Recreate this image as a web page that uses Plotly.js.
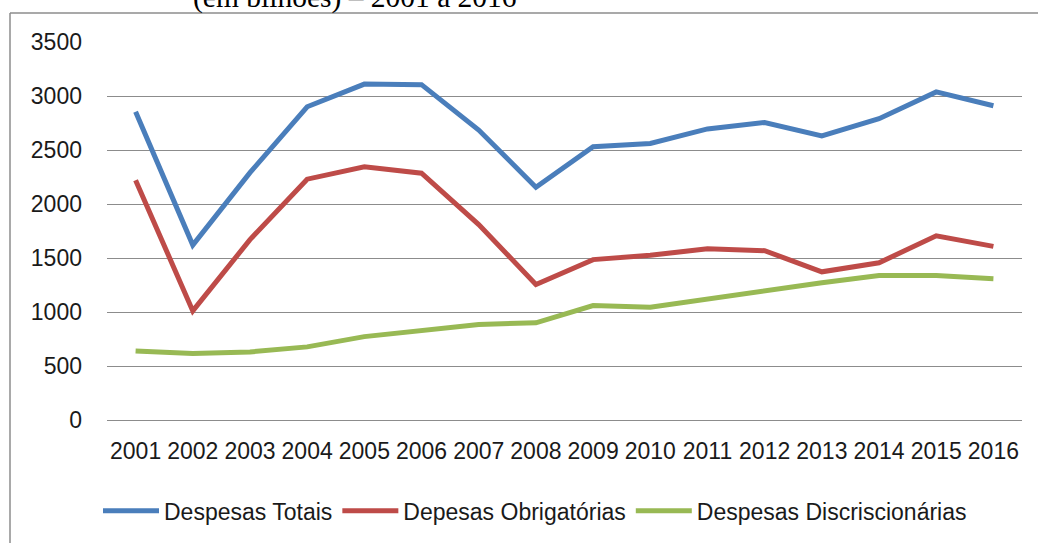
<!DOCTYPE html>
<html>
<head>
<meta charset="utf-8">
<script src="https://cdn.plot.ly/plotly-3.0.1.min.js"></script>
<style>
  html, body { margin: 0; padding: 0; background: #ffffff; }
  #chart { width: 1038px; height: 543px; }
</style>
</head>
<body>
<div id="chart"></div>
<script>
const years = ["2001","2002","2003","2004","2005","2006","2007","2008","2009","2010","2011","2012","2013","2014","2015","2016"];
const despesasTotais = [2855, 1620, 2290, 2900, 3110, 3105, 2685, 2155, 2530, 2560, 2695, 2755, 2630, 2790, 3038, 2910];
const despesasObrigatorias = [2220, 1010, 1670, 2230, 2345, 2285, 1810, 1255, 1485, 1525, 1585, 1568, 1372, 1456, 1705, 1608];
const despesasDiscricionarias = [640, 615, 630, 677, 772, 830, 885, 900, 1060, 1045, 1120, 1200, 1270, 1337, 1337, 1308];
const seriesNames = ["Despesas Totais", "Depesas Obrigatórias", "Despesas Discriscionárias"];
const titleText = "(em bilhões) – 2001 a 2016";

const colors = ["#4a7ebb", "#be4b48", "#98b954"];
const font = "'Liberation Sans', Arial, sans-serif";
const fs = 23;

const traces = [despesasTotais, despesasObrigatorias, despesasDiscricionarias].map((vals, i) => ({
  type: "scatter",
  mode: "lines",
  name: seriesNames[i],
  x: years,
  y: vals,
  line: { color: colors[i], width: 5 },
  hoverinfo: "x+y+name"
}));

const layout = {
  width: 1038,
  height: 543,
  paper_bgcolor: "#ffffff",
  plot_bgcolor: "#ffffff",
  margin: { l: 107, r: 16, t: 42, b: 122 },
  showlegend: true,
  font: { family: font, size: fs, color: "#1a1a1a" },
  xaxis: {
    type: "category",
    range: [-0.5, 15.5],
    showgrid: false,
    zeroline: false,
    showline: false,
    ticks: "",
    ticklabelstandoff: 15,
    tickfont: { family: font, size: fs, color: "#1a1a1a" },
    fixedrange: true
  },
  yaxis: {
    range: [0, 3500],
    dtick: 500,
    tick0: 0,
    showgrid: true,
    gridcolor: "#8c8c8c",
    gridwidth: 1.4,
    zeroline: true,
    zerolinecolor: "#8c8c8c",
    zerolinewidth: 1.4,
    showline: false,
    ticks: "",
    ticklabelstandoff: 24,
    tickfont: { family: font, size: fs, color: "#1a1a1a" },
    fixedrange: true
  },
  legend: {
    orientation: "h",
    x: (535 - 107) / 915,
    xanchor: "center",
    y: -0.237,
    yanchor: "middle",
    font: { family: font, size: fs, color: "#1a1a1a" },
    itemwidth: 56,
    tracegroupgap: 0
  },
  annotations: [{
    xref: "paper", yref: "paper",
    x: (355 - 107) / 915, y: (421 - 16) / 379,
    xanchor: "center", yanchor: "bottom",
    text: titleText,
    showarrow: false,
    font: { family: "'Liberation Serif', 'Times New Roman', serif", size: 29.5, color: "#000000" }
  }],
  shapes: [
    { type: "line", xref: "paper", yref: "paper",
      x0: (10 - 107) / 915, x1: (10 - 107) / 915, y0: (421 - 13) / 379, y1: (421 - 560) / 379,
      line: { color: "#8c8c8c", width: 1.5 } },
    { type: "line", xref: "paper", yref: "paper",
      x0: (10 - 107) / 915, x1: (1060 - 107) / 915, y0: (421 - 13) / 379, y1: (421 - 13) / 379,
      line: { color: "#8c8c8c", width: 1.5 } }
  ]
};

Plotly.newPlot("chart", traces, layout, { displayModeBar: false });
</script>
</body>
</html>
